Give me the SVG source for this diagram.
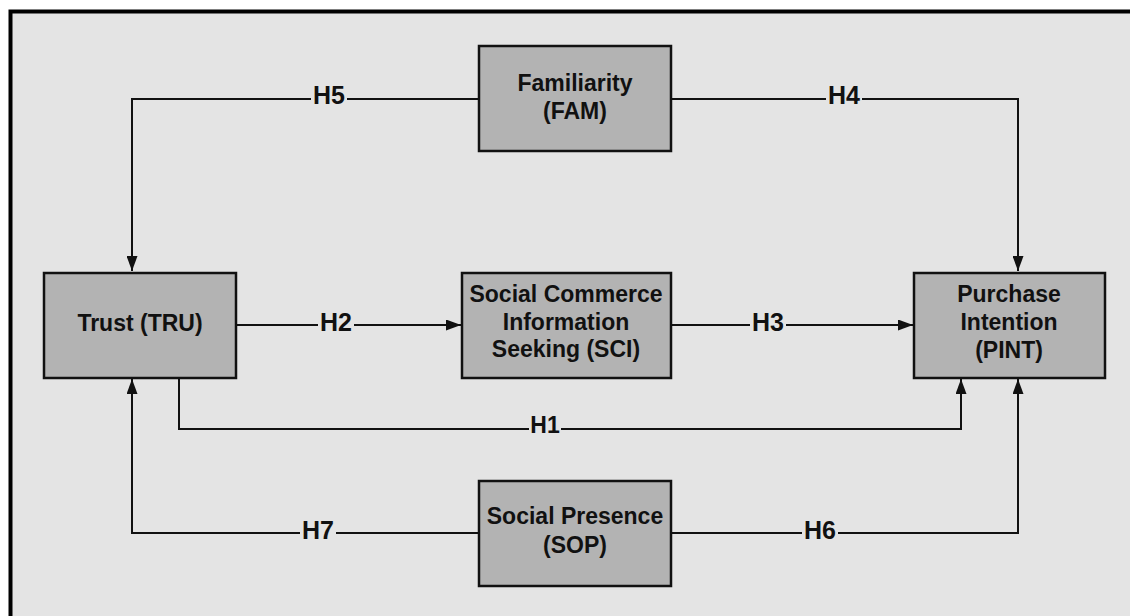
<svg xmlns="http://www.w3.org/2000/svg" width="1130" height="616" viewBox="0 0 1130 616">
<defs>
<style>
.node rect{fill:#b3b3b3;stroke:#111;stroke-width:2.5}
.node text{font-family:"Liberation Sans",Arial,sans-serif;font-weight:bold;font-size:23px;fill:#111;text-anchor:middle}
.conn path{fill:none;stroke:#111;stroke-width:2}
.lbl rect{fill:#e4e4e4}
.lbl text{font-family:"Liberation Sans",Arial,sans-serif;font-weight:bold;font-size:25px;fill:#111;text-anchor:middle}
</style>
<marker id="arr" viewBox="0 0 15 11" refX="15" refY="5.5" markerWidth="15" markerHeight="11" markerUnits="userSpaceOnUse" orient="auto">
<path d="M0,0 L15,5.5 L0,11 Z" fill="#111"/>
</marker>
</defs>
<rect x="0" y="0" width="1130" height="616" fill="#ffffff"/>
<rect x="10.5" y="11.5" width="1130" height="620" fill="#e4e4e4" stroke="#000" stroke-width="4"/>

<g class="conn" id="connectors">
<path id="h5" d="M479,99 H132 V271" marker-end="url(#arr)"/>
<path id="h4" d="M671,99 H1018 V271" marker-end="url(#arr)"/>
<path id="h2" d="M236,325 H461" marker-end="url(#arr)"/>
<path id="h3" d="M671,325 H913" marker-end="url(#arr)"/>
<path id="h1" d="M179,378 V429 H961 V379" marker-end="url(#arr)"/>
<path id="h7" d="M479,533 H132 V379" marker-end="url(#arr)"/>
<path id="h6" d="M671,533 H1018 V379" marker-end="url(#arr)"/>
<g class="lbl">
<rect x="311" y="88" width="36" height="22"/><text x="329" y="104">H5</text>
<rect x="826" y="88" width="36" height="22"/><text x="844" y="104">H4</text>
<rect x="318" y="315" width="36" height="22"/><text x="336" y="331">H2</text>
<rect x="750" y="315" width="36" height="22"/><text x="768" y="331">H3</text>
<rect x="529" y="419" width="32" height="20"/><text x="545" y="433" style="font-size:23px">H1</text>
<rect x="300" y="523" width="36" height="22"/><text x="318" y="539">H7</text>
<rect x="802" y="523" width="36" height="22"/><text x="820" y="539">H6</text>
</g>
</g>

<g class="node" id="fam">
<rect x="479" y="46" width="192" height="105"/>
<text x="575" y="91">Familiarity</text>
<text x="575" y="119">(FAM)</text>
</g>
<g class="node" id="tru">
<rect x="44" y="273" width="192" height="105"/>
<text x="140" y="331">Trust (TRU)</text>
</g>
<g class="node" id="sci">
<rect x="462" y="273" width="209" height="105"/>
<text x="566" y="302">Social Commerce</text>
<text x="566" y="330">Information</text>
<text x="566" y="357">Seeking (SCI)</text>
</g>
<g class="node" id="pint">
<rect x="914" y="273" width="191" height="105"/>
<text x="1009" y="302">Purchase</text>
<text x="1009" y="330">Intention</text>
<text x="1009" y="358">(PINT)</text>
</g>
<g class="node" id="sop">
<rect x="479" y="481" width="192" height="105"/>
<text x="575" y="524">Social Presence</text>
<text x="575" y="553">(SOP)</text>
</g>
</svg>
